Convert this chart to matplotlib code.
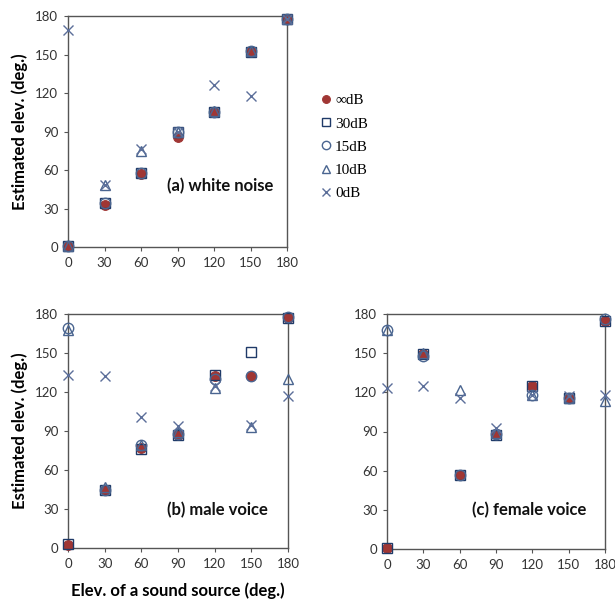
import matplotlib
matplotlib.use("Agg")
import matplotlib.pyplot as plt
from matplotlib.lines import Line2D

# ================= Data ===============
source_elev = [0, 30, 60, 90, 120, 150, 180]

series_labels = ["\u221edB", "30dB", "15dB", "10dB", "0dB"]

# (a) white noise
white_inf = [1, 33, 57, 86, 105, 153, 178]
white_30 = [1, 34, 58, 90, 105, 152, 178]
white_15 = [1, 34, 58, 90, 105, 153, 178]
white_10 = [1, 48, 75, 90, 106, 153, 178]
white_0 = [169, 48, 76, 90, 126, 118, 178]

# (b) male voice
male_inf = [2, 45, 77, 87, 132, 132, 177]
male_30 = [3, 45, 76, 87, 133, 151, 177]
male_15 = [169, 45, 79, 88, 130, 132, 178]
male_10 = [168, 47, 79, 89, 123, 93, 130]
male_0 = [133, 132, 101, 94, 125, 95, 117]

# (c) female voice
female_inf = [1, 149, 57, 88, 125, 116, 175]
female_30 = [1, 149, 57, 87, 125, 116, 175]
female_15 = [168, 148, 57, 88, 118, 116, 176]
female_10 = [168, 150, 122, 89, 118, 116, 113]
female_0 = [123, 125, 116, 93, 118, 117, 118]

panel_titles = ["(a) white noise", "(b) male voice", "(c) female voice"]
ticks = [0, 30, 60, 90, 120, 150, 180]

# ================= Styles ===============
red = "#A03634"
navy = "#1F3A68"
blue = "#4A6590"
slate = "#5C6F9A"
styles = [
    dict(marker="o", ms=7.0, mfc=red, mec=red, mew=0.8),
    dict(marker="s", ms=7.5, mfc="none", mec=navy, mew=1.0),
    dict(marker="o", ms=7.5, mfc="none", mec=blue, mew=1.0),
    dict(marker="^", ms=7.5, mfc="none", mec=blue, mew=1.0),
    dict(marker="x", ms=7.0, mfc="none", mec=slate, mew=1.0),
]

label_font = "Lato"
tick_color = "#333333"
spine_color = "#555555"

fig = plt.figure(figsize=(6.15, 6.10), dpi=100)

positions = [
    [68 / 615, 1 - 247 / 610, 219 / 615, 231 / 610],
    [68 / 615, 1 - 548 / 610, 220 / 615, 234 / 610],
    [387 / 615, 1 - 549 / 610, 218 / 615, 235 / 610],
]
panels = [
    [white_inf, white_30, white_15, white_10, white_0],
    [male_inf, male_30, male_15, male_10, male_0],
    [female_inf, female_30, female_15, female_10, female_0],
]
title_pos = [(0.45, 0.24), (0.45, 0.14), (0.39, 0.145)]

for i in range(3):
    ax = fig.add_axes(positions[i])
    for k in range(5):
        ax.plot(source_elev, panels[i][k], linestyle="none", clip_on=False,
                zorder=3 + k, **styles[k])
    ax.set_xlim(0, 180)
    ax.set_ylim(0, 180)
    ax.set_xticks(ticks)
    ax.set_yticks(ticks)
    for s in ax.spines.values():
        s.set_color(spine_color)
        s.set_linewidth(1.0)
    ax.tick_params(direction="out", length=3, color=spine_color,
                   labelsize=9.5, labelcolor=tick_color, pad=4)
    for lab in ax.get_xticklabels() + ax.get_yticklabels():
        lab.set_family(label_font)
    ax.text(title_pos[i][0], title_pos[i][1], panel_titles[i], transform=ax.transAxes,
            fontsize=12, fontweight="bold", family=label_font, color="#111111")
    if i < 2:
        ax.set_ylabel("Estimated elev. (deg.)", fontsize=12, fontweight="bold",
                      family=label_font, labelpad=5)
    if i == 1:
        ax.set_xlabel("Elev. of a sound source (deg.)", fontsize=12, fontweight="bold",
                      family=label_font, labelpad=9)

# legend
handles = []
for k in range(5):
    st = dict(styles[k])
    st["ms"] = st["ms"] * 0.8
    handles.append(Line2D([], [], linestyle="none", **st))
fig.legend(handles, series_labels, loc="upper left", bbox_to_anchor=(306 / 615, 1 - 80 / 610),
           frameon=False, handlelength=0.8, handletextpad=0.2, labelspacing=0.62,
           prop={"family": "Liberation Serif", "size": 11})

fig.savefig("out.png", dpi=100)
